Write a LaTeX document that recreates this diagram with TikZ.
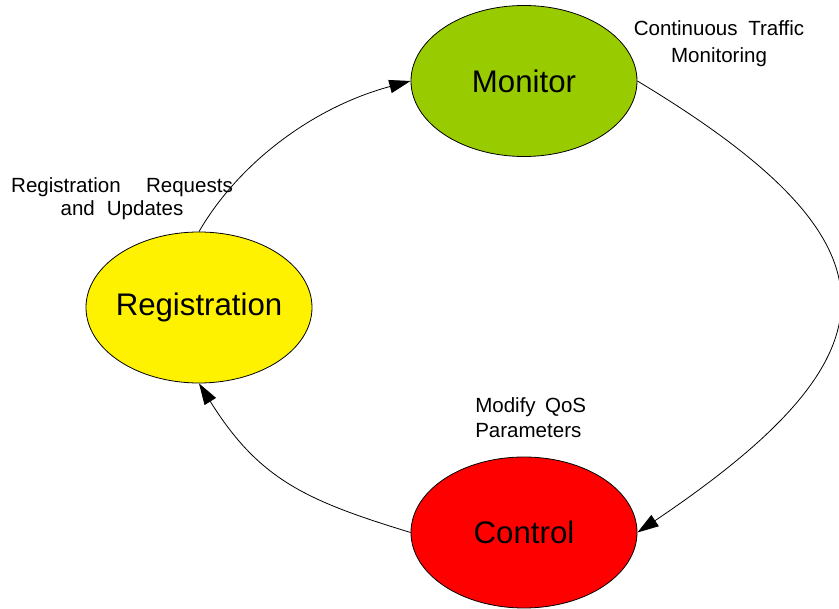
\documentclass[tikz,border=0pt]{standalone}
\usepackage{fontspec}
\setmainfont{Liberation Sans}
\usetikzlibrary{shapes.geometric,arrows.meta}
\definecolor{monitorgreen}{RGB}{153,204,0}

\tikzset{
    phase/.style={ellipse, draw, line width=0.6pt, minimum width=169.5pt, minimum height=113.25pt,
        inner xsep=-8pt, font=\fontsize{23.4}{28}\selectfont},
    note/.style={inner sep=0pt, align=center},
    flow/.style={-{Triangle[length=16pt,width=10pt]}, line width=0.6pt}
}

\begin{document}
\begin{tikzpicture}[x=0.75pt, y=-0.75pt]
    \useasboundingbox (0,0) rectangle (839,609);

    \node[phase, fill=monitorgreen] (monitor) at (524,81) {Monitor};
    \node[phase, fill=yellow] (reg) at (199,307.5) {Registration};
    \node[phase, fill=red] (control) at (524,532.5) {Control};

    \node[note, font=\fontsize{15.4}{20.5}\selectfont] (monnote) at (719,44) {Continuous\hspace{8pt}Traffic\\Monitoring};
    \node[note, font=\fontsize{15.4}{17.5}\selectfont] (regnote) at (122,199) {Registration\hspace{19pt}Requests\\and\hspace{9pt}Updates};
    \node[note, align=left, anchor=west, font=\fontsize{15.4}{18.75}\selectfont] (ctlnote) at (475,418) {Modify\hspace{7pt}QoS\\Parameters};

    \draw[flow] (reg.north) .. controls +(40,-69) and +(-97,26) .. (monitor.west);
    \draw[flow] (monitor.east) .. controls +(269,162) and +(269,-181) .. (control.east);
    \draw[flow] (control.west) .. controls +(-105,-32) and +(60,96) .. (reg.south);
\end{tikzpicture}
\end{document}
